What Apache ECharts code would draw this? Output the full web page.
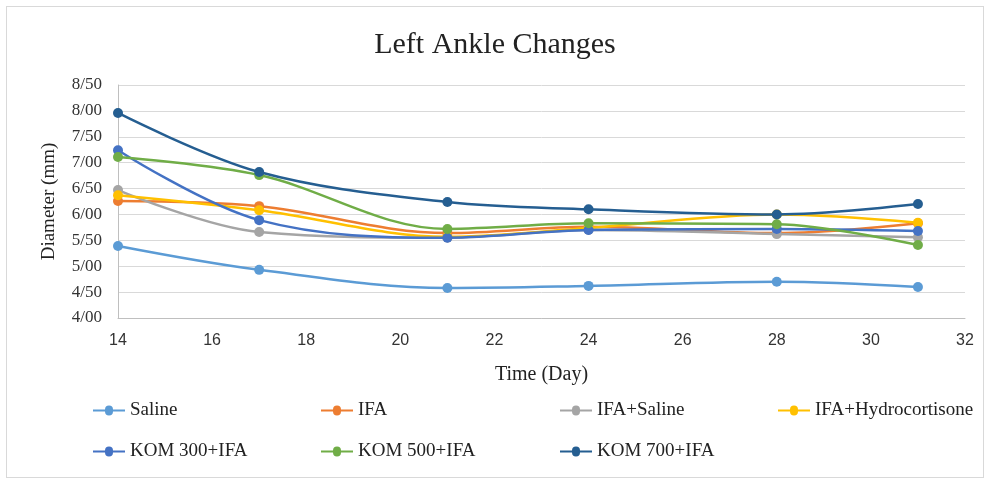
<!DOCTYPE html>
<html>
<head>
<meta charset="utf-8">
<script src="https://cdn.jsdelivr.net/npm/echarts@6/dist/echarts.min.js"></script>
<style>
  html, body { margin: 0; padding: 0; background: #fff; }
  #frame { position: absolute; left: 6px; top: 6px; width: 976px; height: 470px; border: 1px solid #d9d9d9; }
  #main { position: absolute; left: 0; top: 0; width: 990px; height: 484px; }
</style>
</head>
<body>
<div id="frame"></div>
<div id="main"></div>
<script>
// Left ankle diameter per group over time
const days = [14, 17, 21, 24, 28, 31];

const saline     = [5.39, 4.93, 4.58, 4.62, 4.70, 4.60];
const ifa        = [6.26, 6.16, 5.64, 5.76, 5.64, 5.83];
const ifaSaline  = [6.47, 5.66, 5.55, 5.70, 5.62, 5.56];
const ifaHydro   = [6.37, 6.08, 5.57, 5.74, 6.00, 5.84];
const kom300     = [7.24, 5.89, 5.55, 5.70, 5.72, 5.68];
const kom500     = [7.11, 6.76, 5.72, 5.83, 5.81, 5.41];
const kom700     = [7.96, 6.82, 6.24, 6.10, 6.00, 6.20];

const groupNames = ['Saline', 'IFA', 'IFA+Saline', 'IFA+Hydrocortisone',
                    'KOM 300+IFA', 'KOM 500+IFA', 'KOM 700+IFA'];
const groupColors = ['#5B9BD5', '#ED7D31', '#A5A5A5', '#FFC000', '#4472C4', '#70AD47', '#255E91'];
const groupValues = [saline, ifa, ifaSaline, ifaHydro, kom300, kom500, kom700];

const yTickLabels = ['4/00', '4/50', '5/00', '5/50', '6/00', '6/50', '7/00', '7/50', '8/00', '8/50'];

let chartDom = document.getElementById('main');
let chart = echarts.init(chartDom);

const serif = '"Liberation Serif", "DejaVu Serif", serif';
const sans = '"Liberation Sans", Arial, sans-serif';

// legend slots (4 per row, Excel-like spacing)
const legendLeft = [88, 316, 555, 773];
const legendTop = [396, 437];

function makeSeries(i) {
  return {
    name: groupNames[i],
    type: 'line',
    smooth: 0.35,
    data: days.map((d, k) => [d, groupValues[i][k]]),
    symbol: 'circle',
    symbolSize: 10,
    lineStyle: { width: 2.5, color: groupColors[i] },
    itemStyle: { color: groupColors[i] },
    z: 2 + i
  };
}

function legendItem(i) {
  return {
    top: legendTop[Math.floor(i / 4)],
    left: legendLeft[i % 4],
    icon: 'path://M0,4 L12,4 A4,4 0 1 1 20,4 L32,4 L32,6 L20,6 A4,4 0 1 1 12,6 L0,6 Z',
    itemWidth: 32,
    itemHeight: 10,
    data: [groupNames[i]],
    textStyle: { fontFamily: serif, fontSize: 19, color: '#222' }
  };
}

let option = {
  animation: false,
  title: {
    text: 'Left Ankle Changes',
    left: 'center',
    top: 25,
    textStyle: { fontFamily: serif, fontSize: 30, fontWeight: 'normal', color: '#222' }
  },
  legend: groupNames.map((n, i) => legendItem(i)),
  grid: { left: 118, right: 25, top: 85, bottom: 166 },
  xAxis: {
    type: 'value',
    min: 14,
    max: 32,
    interval: 2,
    name: 'Time (Day)',
    nameLocation: 'middle',
    nameGap: 47,
    nameTextStyle: { fontFamily: serif, fontSize: 20, color: '#222' },
    axisLine: { show: true, lineStyle: { color: '#bfbfbf' } },
    axisTick: { show: false },
    splitLine: { show: false },
    axisLabel: { fontFamily: sans, fontSize: 16, color: '#333', margin: 15 }
  },
  yAxis: {
    type: 'value',
    min: 4,
    max: 8.5,
    interval: 0.5,
    name: 'Diameter (mm)',
    nameLocation: 'middle',
    nameGap: 59,
    nameTextStyle: { fontFamily: serif, fontSize: 19, color: '#222' },
    axisLine: { show: true, lineStyle: { color: '#bfbfbf' } },
    axisTick: { show: false },
    splitLine: { show: true, lineStyle: { color: '#d9d9d9' } },
    axisLabel: {
      fontFamily: serif, fontSize: 17, color: '#333', margin: 16,
      formatter: v => yTickLabels[Math.round((v - 4) / 0.5)]
    }
  },
  series: groupNames.map((n, i) => makeSeries(i))
};

chart.setOption(option);
</script>
</body>
</html>
